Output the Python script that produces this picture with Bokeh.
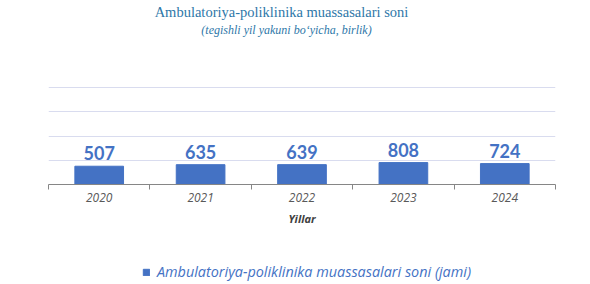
from bokeh.plotting import figure
from bokeh.models import (ColumnDataSource, Range1d, FixedTicker, LabelSet, Label,
                          Legend, LegendItem)
from bokeh.layouts import column
from bokeh.core.properties import value
from bokeh.embed import file_html
from bokeh.resources import INLINE

years = ["2020", "2021", "2022", "2023", "2024"]
values = [507, 635, 639, 808, 724]
series_name = "Ambulatoriya-poliklinika muassasalari soni (jami)"
title_text = "Ambulatoriya-poliklinika muassasalari soni"
subtitle_text = "(tegishli yil yakuni bo\u2018yicha, birlik)"
x_label = "Yillar"

BAR = "#4472C4"
TITLE_COLOR = "#2E77A8"
AXIS_MIN = -1000
grid_ticks = [-1000, 1000, 3000, 5000, 7000]

idx = list(range(len(years)))
src = ColumnDataSource(dict(x=idx, top=values, label=[str(v) for v in values]))

W = 590
H_TITLE, H_MAIN, H_LEG = 40, 210, 34
FRAME_LEFT = 48  # the column aligns every block's frame with the chart's frame


def blank(height, x_range=None, y_range=None):
    f = figure(width=W, height=height, output_backend="svg", toolbar_location=None,
               x_axis_type=None, y_axis_type=None,
               x_range=x_range or Range1d(0, 1), y_range=y_range or Range1d(0, 1),
               min_border=0)
    f.outline_line_color = None
    f.grid.visible = False
    f.title.visible = False
    return f


# ---- title block ----
pt = blank(H_TITLE)
pt.add_layout(Label(x=281 - FRAME_LEFT, y=H_TITLE - 19, x_units="screen", y_units="screen",
                    text=title_text, text_align="center", text_baseline="bottom",
                    text_font="Liberation Serif", text_font_size="14.5px",
                    text_color=TITLE_COLOR))
pt.add_layout(Label(x=286 - FRAME_LEFT, y=H_TITLE - 36, x_units="screen", y_units="screen",
                    text=subtitle_text, text_align="center", text_baseline="bottom",
                    text_font="Liberation Serif", text_font_style="italic",
                    text_font_size="12px", text_color=TITLE_COLOR))

# ---- main chart ----
p = figure(width=W, height=H_MAIN, output_backend="svg", toolbar_location=None,
           x_range=Range1d(-0.5, len(years) - 0.5), y_range=Range1d(AXIS_MIN, 7250),
           min_border_left=FRAME_LEFT, min_border_right=35, min_border_top=44,
           min_border_bottom=66)
p.outline_line_color = None
p.title.visible = False

p.vbar(x="x", top="top", bottom=AXIS_MIN, width=0.48, color=BAR, source=src)

p.add_layout(LabelSet(x="x", y="top", text="label", source=src, y_offset=6,
                      text_align="center", text_baseline="bottom",
                      text_font=value("Lato"), text_font_style="bold", text_font_size="18px",
                      text_color=BAR))

p.yaxis.visible = False
p.ygrid.ticker = FixedTicker(ticks=grid_ticks)
p.ygrid.grid_line_color = "#D9DCEF"
p.xgrid.visible = False

xa = p.xaxis[0]
xa.ticker = FixedTicker(ticks=idx, minor_ticks=[i - 0.5 for i in range(len(years) + 1)])
xa.major_label_overrides = {i: y for i, y in enumerate(years)}
xa.major_tick_out = 0
xa.major_tick_in = 0
xa.minor_tick_out = 5
xa.minor_tick_in = 0
xa.axis_line_color = "#868686"
xa.minor_tick_line_color = "#868686"
xa.major_label_text_font = "Open Sans"
xa.major_label_text_font_style = "italic"
xa.major_label_text_font_size = "12px"
xa.major_label_text_color = "#595959"
xa.major_label_standoff = 3
xa.axis_label = x_label
xa.axis_label_text_font = "Open Sans"
xa.axis_label_text_font_style = "bold italic"
xa.axis_label_text_font_size = "11px"
xa.axis_label_text_color = "#404040"
xa.axis_label_standoff = 6

# ---- legend block (bars of the series lie outside this block's visible range) ----
pl = blank(H_LEG, x_range=Range1d(-0.5, len(years) - 0.5), y_range=Range1d(10000, 10001))
rl = pl.vbar(x="x", top="top", bottom=AXIS_MIN, width=0.48, color=BAR, source=src)
legend = Legend(items=[LegendItem(label=series_name, renderers=[rl])],
                location=(142 - FRAME_LEFT, 3), orientation="horizontal",
                glyph_width=8, glyph_height=8, label_standoff=7, padding=0, margin=0,
                border_line_alpha=0, background_fill_alpha=0,
                label_text_font="Open Sans", label_text_font_style="italic",
                label_text_font_size="14.4px", label_text_color="#4472C4")
pl.add_layout(legend, "center")

layout = column(pt, p, pl, spacing=0)
open("out.html", "w").write(file_html(layout, INLINE))
